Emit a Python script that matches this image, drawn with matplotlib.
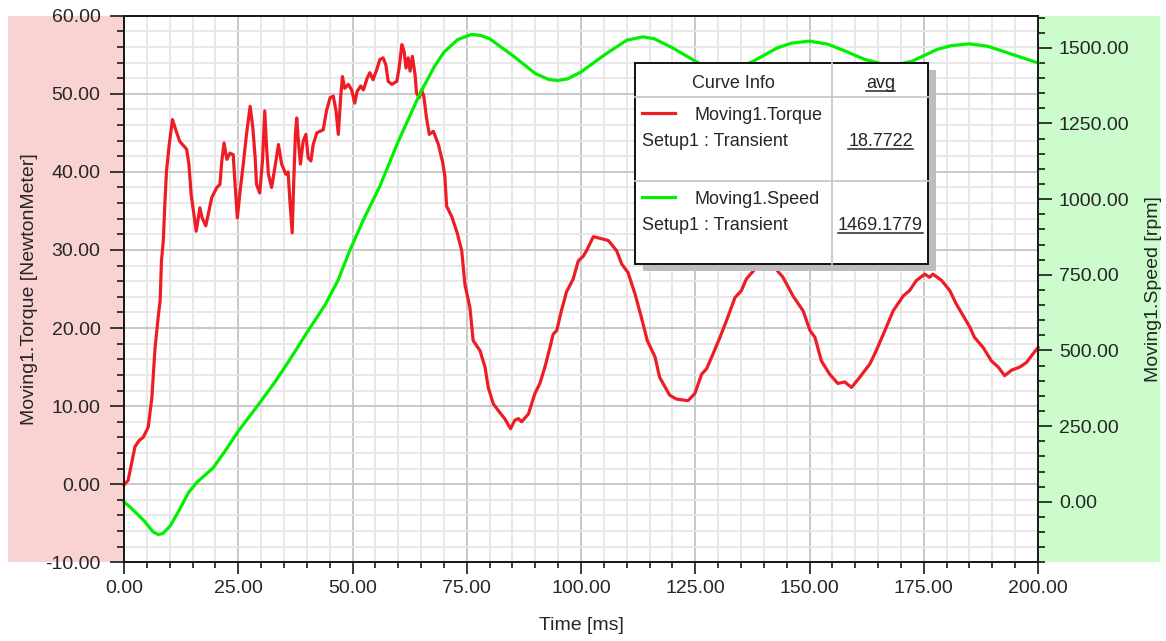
import matplotlib
matplotlib.use("Agg")
import matplotlib.pyplot as plt
from matplotlib.patches import Rectangle
from matplotlib.lines import Line2D
from matplotlib.ticker import MultipleLocator, FormatStrFormatter

# Moving1.Torque [NewtonMeter] vs time [ms]
torque_time = [
    0, 0.9, 1.6, 2.4, 3.3, 4.2, 5.3, 6.1, 6.8, 7.5, 7.9, 8.2, 8.6, 9.0, 9.3, 9.9,
    10.6, 11.2, 12.2, 13.7, 14.2, 14.7, 15.2, 15.8, 16.6, 17.1, 17.9, 19.2, 20.3,
    21.0, 21.4, 21.9, 22.5, 23.2, 23.9, 24.3, 24.8, 25.4, 26.1, 26.8, 27.6, 28.2,
    28.7, 29.0, 29.7, 30.3, 30.8, 31.2, 31.6, 32.3, 33.0, 33.8, 34.5, 35.4, 35.9,
    36.3, 36.8, 37.1, 37.5, 37.8, 38.1, 38.6, 39.2, 39.8, 40.3, 40.9, 41.4, 42.2,
    43.6, 44.3, 45.1, 45.8, 46.4, 46.9, 47.4, 47.8, 48.3, 49.1, 49.8, 50.5, 51.0,
    51.8, 52.4, 53.2, 53.8, 54.5, 55.3, 56.0, 56.7, 57.3, 57.8, 58.6, 59.7, 60.2,
    60.8, 61.3, 61.7, 62.2, 62.6, 63.1, 63.7, 64.0, 64.6, 65.1, 65.6, 66.2, 66.8,
    67.7, 68.8, 69.7, 70.2, 70.6, 71.7, 72.9, 73.9, 74.6, 75.7, 76.4, 77.9, 79.0,
    79.7, 80.8, 82.2, 83.3, 84.6, 85.5, 86.3, 87.0, 88.5, 89.9, 91.0, 92.1, 93.2,
    93.9, 94.7, 95.7, 96.5, 96.8, 98.3, 99.4, 100.5, 101.2, 102.7, 104.1, 106.0,
    107.8, 108.9, 110.3, 111.8, 113.2, 114.5, 116.2, 117.2, 119.4, 120.9, 123.4,
    124.9, 126.4, 127.5, 128.9, 130.4, 131.8, 133.7, 135.1, 136.2, 137.7, 138.8,
    140.4, 142.0, 144.2, 146.4, 148.6, 150.1, 151.2, 152.6, 154.4, 156.2, 157.7,
    159.2, 161.0, 163.2, 164.6, 166.8, 168.3, 170.5, 171.9, 173.4, 175.2, 176.3,
    177.0, 178.9, 180.7, 182.1, 183.6, 185.1, 186.1, 188.0, 189.8, 191.3, 192.7,
    194.2, 196.0, 197.5, 198.9, 200.0,
]
torque = [
    -0.1, 0.5, 2.5, 4.8, 5.6, 6.0, 7.3, 11.1, 17.5, 21.5, 23.5, 28.6, 31.2, 36.7,
    40.1, 43.5, 46.7, 45.6, 43.9, 42.9, 41.0, 37.1, 35.0, 32.4, 35.4, 34.1, 33.1,
    36.7, 38.0, 38.4, 41.4, 43.7, 41.6, 42.4, 42.2, 38.4, 34.1, 37.5, 41.0, 44.8,
    48.4, 45.6, 41.8, 38.4, 37.3, 41.4, 47.8, 43.1, 39.7, 38.0, 40.5, 43.5, 41.0,
    39.7, 40.0, 36.3, 32.2, 38.0, 44.8, 46.9, 44.4, 41.0, 43.9, 44.8, 41.8, 41.4,
    43.5, 45.0, 45.4, 47.8, 49.5, 49.7, 47.8, 44.8, 49.5, 52.2, 50.7, 51.2, 50.5,
    48.8, 50.3, 51.0, 50.5, 52.0, 52.7, 51.8, 53.1, 54.4, 54.6, 53.7, 51.6, 51.2,
    51.6, 53.3, 56.3, 55.4, 53.3, 54.6, 52.9, 54.8, 52.4, 50.1, 49.5, 50.5, 49.7,
    46.9, 44.8, 45.2, 43.5, 41.3, 39.5, 35.6, 34.3, 32.2, 29.9, 25.6, 22.6, 18.4,
    17.1, 15.0, 12.4, 10.3, 9.2, 8.4, 7.1, 8.2, 8.4, 8.0, 9.0, 11.6, 12.9, 15.0,
    17.5, 19.2, 19.7, 22.2, 23.9, 24.6, 26.3, 28.6, 29.2, 29.9, 31.7, 31.5, 31.2,
    29.9, 28.2, 27.1, 24.4, 21.4, 18.4, 16.3, 13.7, 11.4, 10.9, 10.7, 11.6, 14.1,
    14.8, 16.7, 18.8, 20.9, 23.9, 24.8, 26.3, 27.3, 28.0, 28.6, 28.0, 26.5, 24.1,
    22.2, 19.7, 18.8, 15.8, 14.1, 12.9, 13.1, 12.4, 13.7, 15.4, 17.1, 20.1, 22.2,
    24.1, 24.8, 26.1, 26.9, 26.5, 26.9, 26.1, 24.8, 23.1, 21.6, 20.1, 18.8, 17.5,
    15.8, 15.0, 13.9, 14.6, 15.0, 15.6, 16.7, 17.5,
]

# Moving1.Speed [rpm] vs time [ms]
speed_time = [
    0, 1.5, 3, 4.5, 6.4, 7.5, 8.5, 10.1, 12, 14.1, 16, 19.5, 22, 25, 29.4, 33,
    36.3, 40.7, 44, 46.9, 49.4, 52.4, 56, 60, 64.8, 68, 70, 73, 76, 78, 80, 85,
    90, 93, 95, 97, 100, 105, 110, 113.5, 116, 120, 125, 128, 131, 134, 137.6,
    143, 146, 150, 154, 158, 162, 166, 169, 172.5, 178, 181, 185, 189, 193, 197,
    200,
]
speed = [
    0, -20, -42, -65, -100, -108, -105, -80, -30, 30, 65, 112, 165, 233, 321, 395,
    470, 575, 650, 734, 830, 932, 1043, 1190, 1350, 1440, 1485, 1527, 1544, 1541,
    1530, 1475, 1415, 1395, 1392, 1397, 1420, 1475, 1525, 1536, 1530, 1500, 1456,
    1432, 1424, 1430, 1455, 1500, 1515, 1522, 1512, 1488, 1462, 1446, 1444, 1456,
    1495, 1507, 1513, 1505, 1485, 1465, 1450,
]

curve_names = ["Moving1.Torque", "Moving1.Speed"]
curve_setup = "Setup1 : Transient"
curve_avg = ["18.7722", "1469.1779"]

W, H = 1166, 641
FONT = "Liberation Sans"
TXT = "#262626"
plt.rcParams["font.family"] = [FONT, "DejaVu Sans"]


def fx(px):
    return px / W


def fy(py):
    return 1 - py / H


fig = plt.figure(figsize=(W / 100, H / 100), dpi=100)
fig.patch.set_facecolor("white")

# coloured side bands behind the two y axes
fig.patches.append(Rectangle((fx(8), fy(562.3)), fx(124) - fx(8), fy(15.7) - fy(562.3),
                             transform=fig.transFigure, facecolor="#F9D2D2",
                             edgecolor="none", zorder=-1))
fig.patches.append(Rectangle((fx(1038), fy(562.3)), fx(1160) - fx(1038), fy(15.7) - fy(562.3),
                             transform=fig.transFigure, facecolor="#CCFCCC",
                             edgecolor="none", zorder=-1))

ax = fig.add_axes([fx(124), fy(562.3), fx(1038) - fx(124), fy(15.7) - fy(562.3)])
ax.set_facecolor("white")
ax.set_xlim(0, 200)
ax.set_ylim(-10, 60)
ax.xaxis.set_major_locator(MultipleLocator(25))
ax.xaxis.set_minor_locator(MultipleLocator(5))
ax.yaxis.set_major_locator(MultipleLocator(10))
ax.yaxis.set_minor_locator(MultipleLocator(2))
ax.xaxis.set_major_formatter(FormatStrFormatter("%.2f"))
ax.yaxis.set_major_formatter(FormatStrFormatter("%.2f"))
ax.set_axisbelow(True)
ax.grid(which="minor", color="#E6E6E6", linewidth=1.3)
ax.grid(which="major", color="#C4C4C4", linewidth=1.3)

ax2 = ax.twinx()
ax2.set_ylim(-200, 1606)
ax2.yaxis.set_major_locator(MultipleLocator(250))
ax2.yaxis.set_minor_locator(MultipleLocator(50))
ax2.yaxis.set_major_formatter(FormatStrFormatter("%.2f"))

for a in (ax, ax2):
    for s in a.spines.values():
        s.set_color("#1a1a1a")
        s.set_linewidth(1.3)
ax.tick_params(axis="y", which="major", length=10, width=1.2, pad=7,
               labelsize=14, colors="#1a1a1a", labelcolor=TXT)
ax.tick_params(axis="y", which="minor", length=5, width=1.2, colors="#1a1a1a")
ax.tick_params(axis="x", which="major", length=8.5, width=1.2, pad=4,
               labelsize=14, colors="#1a1a1a", labelcolor=TXT)
ax.tick_params(axis="x", which="minor", length=4.3, width=1.2, colors="#1a1a1a")
ax2.tick_params(axis="y", which="major", length=10, width=1.2, pad=5,
                labelsize=14, colors="#1a1a1a", labelcolor=TXT)
ax2.tick_params(axis="y", which="minor", length=5, width=1.2, colors="#1a1a1a")

ax.plot(torque_time, torque, color="#EE1C25", linewidth=2.3, clip_on=False)
ax2.plot(speed_time, speed, color="#00F000", linewidth=2.3, clip_on=False)

fig.text(fx(581), fy(625), "Time [ms]", ha="center", va="center", fontsize=14, color=TXT)
fig.text(fx(30), fy(289), "Moving1.Torque [NewtonMeter]", ha="center", va="center",
         rotation=90, fontsize=14, color=TXT)
fig.text(fx(1153), fy(289), "Moving1.Speed [rpm]", ha="center", va="center",
         rotation=90, fontsize=14, color=TXT)

# curve info table
bx0, by0, bx1, by1 = 635, 63, 928, 264
fig.patches.append(Rectangle((fx(bx0 + 8), fy(by1 + 7)), fx(bx1) - fx(bx0), fy(by0) - fy(by1),
                             transform=fig.transFigure, facecolor="#BDBDBD",
                             edgecolor="none", zorder=5))
fig.patches.append(Rectangle((fx(bx0), fy(by1)), fx(bx1) - fx(bx0), fy(by0) - fy(by1),
                             transform=fig.transFigure, facecolor="white",
                             edgecolor="#111111", linewidth=1.4, zorder=6))
for seg in ([(832, 832), (by0, by1)], [(bx0, bx1), (97, 97)], [(bx0, bx1), (181, 181)]):
    fig.lines.append(Line2D([fx(v) for v in seg[0]], [fy(v) for v in seg[1]],
                            transform=fig.transFigure, color="#C8C8C8",
                            linewidth=1.3, zorder=7))

legend_texts = []
fig.text(fx(733.5), fy(83), "Curve Info", ha="center", va="center", fontsize=13,
         color=TXT, zorder=8)
legend_texts.append(fig.text(fx(880.5), fy(83), "avg", ha="center", va="center",
                             fontsize=13, color=TXT, zorder=8))
rows = [(113, 116, 141, "#EE1C25"), (197, 200, 225, "#00F000")]
for (ly, ny, sy, col), name, avg in zip(rows, curve_names, curve_avg):
    fig.lines.append(Line2D([fx(642), fx(675)], [fy(ly), fy(ly)], transform=fig.transFigure,
                            color=col, linewidth=2.3, zorder=8))
    fig.text(fx(694), fy(ny), name, ha="left", va="center", fontsize=13, color=TXT, zorder=8)
    fig.text(fx(642), fy(sy), curve_setup, ha="left", va="center", fontsize=13,
             color=TXT, zorder=8)
    legend_texts.append(fig.text(fx(880.5), fy(sy), avg, ha="center", va="center",
                                 fontsize=13, color=TXT, zorder=8))

# underline the header and the average values
renderer = fig.canvas.get_renderer()
for t in legend_texts:
    bb = t.get_window_extent(renderer)
    uy = bb.y0 + 1
    fig.lines.append(Line2D([bb.x0 / W, bb.x1 / W], [uy / H, uy / H], transform=fig.transFigure,
                            color=TXT, linewidth=1.1, zorder=8))

fig.savefig("out.png", dpi=100)
